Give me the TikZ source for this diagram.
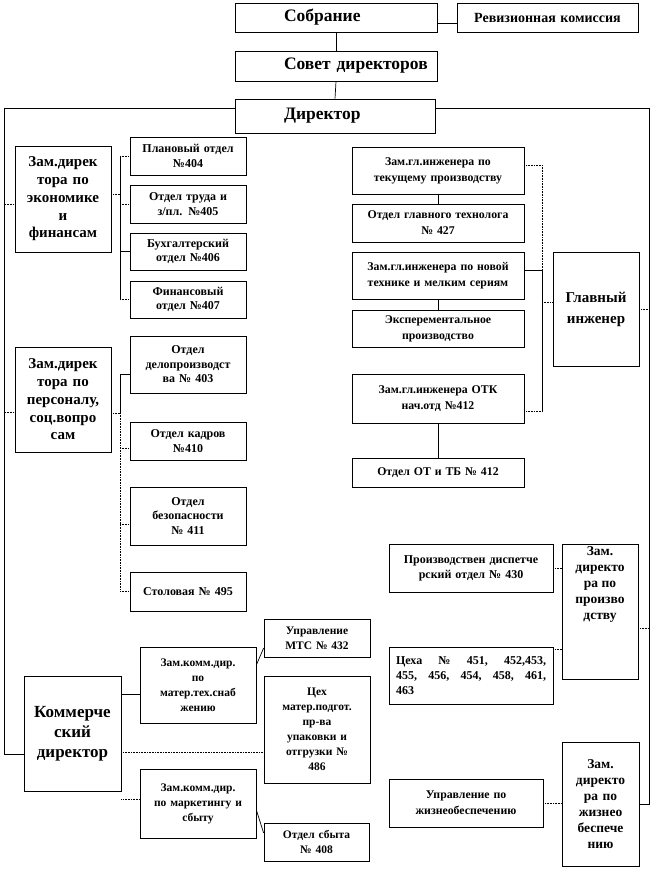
\documentclass[tikz,border=0pt]{standalone}
\usepackage{fontspec}
\setmainfont{Liberation Serif}
\newcommand\bx[7][]{%
  \pgfmathsetmacro\bxw{#5-#3}%
  \pgfmathsetmacro\bxh{#6-#4}%
  \pgfmathsetmacro\bxx{(#3+#5)/2}%
  \pgfmathsetmacro\bxy{(#4+#6)/2}%
  \pgfmathsetmacro\bxt{#5-#3-6}%
  \node[box, minimum width=\bxw pt, minimum height=\bxh pt, text width=\bxt pt, #1] (#2) at (\bxx,\bxy) {#7};%
}
\tikzset{
  box/.style={draw, line width=0.7pt, rectangle, inner xsep=3pt, inner ysep=0pt, align=center, font=\bfseries},
  ln/.style={line width=0.7pt},
  dotln/.style={line width=0.7pt, dash pattern=on 0.8pt off 0.8pt},
  fbig/.style={font=\bfseries\fontsize{17.5}{20}\selectfont},
  frev/.style={font=\bfseries\fontsize{14}{16}\selectfont},
  fzam/.style={font=\bfseries\fontsize{15}{17.7}\selectfont},
  fsub/.style={font=\bfseries\fontsize{12}{14.5}\selectfont},
  feng/.style={font=\bfseries\fontsize{11.8}{16}\selectfont},
  fgi/.style={font=\bfseries\fontsize{15}{21}\selectfont},
  fzd/.style={font=\bfseries\fontsize{13.5}{16}\selectfont},
  fkom/.style={font=\bfseries\fontsize{17}{20}\selectfont},
  fcom/.style={font=\bfseries\fontsize{11.5}{15}\selectfont},
  fcex/.style={font=\bfseries\fontsize{12}{15}\selectfont},
}
\begin{document}
\begin{tikzpicture}[x=1pt,y=-1pt]
\useasboundingbox[fill=white] (0,0) rectangle (651,869);

% top
\bx[fbig,align=left]{sobr}{235}{3}{437}{32}{\hspace*{46pt}Собрание}
\bx[frev]{rev}{457}{3}{638}{32}{Ревизионная комиссия}
\bx[fbig,align=left]{sovet}{235}{51}{437}{81}{\hspace*{46pt}Совет директоров}
\bx[fbig,align=left]{dir}{235}{99}{435}{133}{\hspace*{46pt}Директор}

% left: economics
\bx[fzam]{zeco}{15}{146}{111}{252}{Зам.дирек\\тора по\\экономике\\и\\финансам}
\bx[fsub]{plan}{130}{137}{246}{175}{Плановый отдел\\№404}
\bx[fsub]{trud}{130}{185}{246}{223}{Отдел труда и\\з/пл. №405}
\bx[fsub]{buh}{130}{233}{246}{270}{Бухгалтерский\\отдел №406}
\bx[fsub]{fin}{130}{281}{246}{318}{Финансовый\\отдел №407}

% left: personnel
\bx[fzam]{zpers}{15}{347}{111}{452}{Зам.дирек\\тора по\\персоналу,\\соц.вопро\\сам}
\bx[fsub]{delo}{130}{336}{246}{393}{Отдел\\делопроизводст\\ва № 403}
\bx[fsub]{kadr}{130}{422}{246}{460}{Отдел кадров\\№410}
\bx[fsub]{bez}{130}{487}{246}{545}{Отдел\\безопасности\\№ 411}
\bx[fsub]{stol}{130}{572}{246}{611}{Столовая № 495}

% engineering
\bx[feng]{zt}{352}{147}{524}{194}{Зам.гл.инженера по\\текущему производству}
\bx[feng]{ogt}{352}{204}{524}{242}{Отдел главного технолога\\№ 427}
\bx[feng]{zn}{352}{252}{524}{299}{Зам.гл.инженера по новой\\технике и мелким сериям}
\bx[feng]{exp}{352}{310}{524}{347}{Эксперементальное\\производство}
\bx[feng]{otk}{352}{374}{524}{423}{Зам.гл.инженера ОТК\\нач.отд №412}
\bx[feng]{ot}{352}{458}{524}{487}{Отдел ОТ и ТБ № 412}
\bx[fgi]{gi}{553}{252}{639}{366}{Главный\\инженер}

% production
\bx[fcex]{disp}{389}{544}{553}{592}{Производствен диспетче\\рский отдел № 430}
\bx[fcex,align=left,text width=150pt]{cex}{389}{647}{553}{704}{\makebox[150pt][l]{Цеха\hfill№\hfill451,\hfill452,453,}\\\makebox[150pt][l]{455,\hfill456,\hfill454,\hfill458,\hfill461,}\\463}
\bx{zpr}{562}{544}{638}{679}{}
\node[fzd, align=center, anchor=north, inner sep=0pt] (zprt) at ([yshift=-3pt]zpr.north) {Зам.\\директо\\ра по\\произво\\дству};

% commerce
\bx[fkom]{komm}{24}{676}{121}{791}{Коммерче\\ский\\директор}
\bx[fcom]{snab}{140}{647}{256}{723}{Зам.комм.дир.\\по\\матер.тех.снаб\\жению}
\bx[fcom]{mts}{264}{619}{370}{657}{Управление\\МТС № 432}
\bx[fcom]{cmat}{264}{676}{370}{783}{Цех\\матер.подгот.\\пр-ва\\упаковки и\\отгрузки №\\486}
\bx[fcom]{mark}{140}{769}{256}{838}{Зам.комм.дир.\\по маркетингу и\\сбыту}
\bx[fcom]{sbyt}{264}{823}{369}{861}{Отдел сбыта\\№ 408}

% life support
\bx[feng]{upr}{389}{779}{543}{827}{Управление по\\жизнеобеспечению}
\bx[fzd]{zhiz}{562}{742}{639}{866}{Зам.\\директо\\ра по\\жизнео\\беспече\\нию}

% helper coordinates for buses
\coordinate (lt) at (5,0);
\coordinate (rt) at (649,0);
\coordinate (eb) at (120,0);
\coordinate (gb) at (542,0);

% top connectors
\draw[ln] ([yshift=-5.5pt]sobr.east) -- ([yshift=-5.5pt]rev.west);
\draw[ln] (sobr.south) -- (sovet.north);
\draw[ln] (sovet.south) -- (dir.north);

% left trunk
\draw[ln] ([yshift=8pt]dir.west) -| ([xshift=-19pt,yshift=-20.5pt]komm.west) -- ([yshift=-20.5pt]komm.west);
\coordinate (c0) at ([yshift=-5pt]zeco.west);
\draw[dotln] (lt |- c0) -- (c0);
\coordinate (c00) at ([yshift=-12.5pt]zpers.west);
\draw[dotln] (lt |- c00) -- (c00);

% right trunk
\draw[ln] ([yshift=8pt]dir.east) -| (rt |- zhiz.east) -- (zhiz.east);
\draw[dotln] (gi.east) -- (rt |- gi.east);
\coordinate (c01) at ([yshift=-17pt]zpr.east);
\draw[dotln] (c01) -- (rt |- c01);

% economics bus
\coordinate (c1) at ([yshift=5pt]zeco.east);
\draw[dotln] (c1) -- (eb |- c1);
\draw[ln] (eb |- plan.west) -- (eb |- fin.west);
\draw[dotln] (eb |- plan.west) -- (plan.west);
\draw[dotln] (eb |- trud.west) -- (trud.west);
\draw[ln] (eb |- buh.west) -- (buh.west);
\draw[dotln] (eb |- fin.west) -- (fin.west);

% personnel bus
\coordinate (c2) at ([yshift=-13.5pt]zpers.east);
\coordinate (c3) at ([yshift=-9.5pt]delo.west);
\coordinate (c4) at ([yshift=-7pt]kadr.west);
\coordinate (c5) at ([yshift=-8pt]bez.west);
\draw[dotln] (c2) -- (eb |- c2);
\draw[ln] (eb |- c3) -- (eb |- c2);
\draw[dotln] (eb |- c2) -- (eb |- stol.west);
\draw[ln] (eb |- c3) -- (c3);
\draw[dotln] (eb |- c4) -- (c4);
\draw[dotln] (eb |- c5) -- (c5);
\draw[dotln] (eb |- stol.west) -- (stol.west);

% engineering
\draw[ln] (zt.south) -- (ogt.north);
\draw[ln] (zn.south) -- (exp.north);
\draw[ln] (otk.south) -- (ot.north);
\coordinate (e1) at ([yshift=5.5pt]zt.east);
\coordinate (e2) at ([yshift=5.5pt]zn.east);
\coordinate (e3) at ([yshift=-12.5pt]otk.east);
\coordinate (e4) at ([yshift=7pt]gi.west);
\draw[dotln] (e1) -- (gb |- e1) -- (gb |- e2);
\draw[ln] (gb |- e2) -- (gb |- e3);
\draw[ln] (e2) -- (gb |- e2);
\draw[dotln] (e3) -- (gb |- e3);
\draw[dotln] (gb |- e4) -- (e4);

% production
\draw[dotln] (disp.east) -- (disp.east -| zpr.west);
\coordinate (p1) at ([yshift=26.5pt]cex.east);
\draw[dotln] (p1) -- (p1 -| zpr.west);

% commerce
\coordinate (k1) at ([yshift=-9pt]snab.west);
\draw[ln] (komm.east |- k1) -- (k1);
\coordinate (k2) at ([yshift=-22.5pt]cmat.west);
\draw[dotln] (komm.east |- k2) -- (k2);
\coordinate (k3) at ([yshift=4.5pt]mark.west);
\draw[dotln] (komm.east |- k3) -- (k3);
\draw[ln] ([yshift=20pt]snab.east) -- ([yshift=-10pt]mts.west);
\draw[ln] ([yshift=-6.5pt]mark.east) -- ([yshift=9pt]sbyt.west);

% life support
\draw[dotln] (upr.east) -- (upr.east -| zhiz.west);
\end{tikzpicture}
\end{document}
